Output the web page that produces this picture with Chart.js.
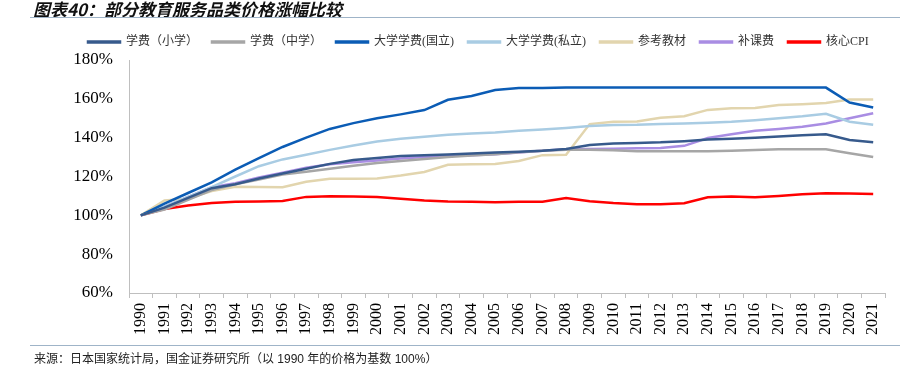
<!DOCTYPE html>
<html>
<head>
<meta charset="utf-8">
<script src="https://cdn.jsdelivr.net/npm/chart.js@4.4.1/dist/chart.umd.min.js"></script>
<style>
  body { margin: 0; background: #fff; }
  #wrap { position: relative; width: 921px; height: 376px; overflow: hidden; }
  #chart { position: absolute; left: 0; top: 0; }
  .title {
    position: absolute; left: 33px; top: -4px;
    font: italic bold 17px "Noto Sans CJK SC", sans-serif; color: #111;
  }
  .rule { position: absolute; left: 30px; width: 870px; height: 1px; background: #9fb4c8; }
  .source {
    position: absolute; left: 34px; top: 349px;
    font: 12px "Liberation Sans", "Noto Sans CJK SC", sans-serif; color: #222;
  }
</style>
</head>
<body>
<div id="wrap">
  <canvas id="chart" width="921" height="376"></canvas>
  <div class="title">图表40：部分教育服务品类价格涨幅比较</div>
  <div class="rule" style="top:17px"></div>
  <div class="rule" style="top:345px"></div>
  <div class="source">来源：日本国家统计局，国金证券研究所（以 1990 年的价格为基数 100%）</div>
</div>
<script>
// categories
const years = ['1990','1991','1992','1993','1994','1995','1996','1997','1998','1999',
  '2000','2001','2002','2003','2004','2005','2006','2007','2008','2009','2010',
  '2011','2012','2013','2014','2015','2016','2017','2018','2019','2020','2021'];

// series (1990 = 100%)
const xiaoxue = [100,104,109,114,116,119,121.5,124,126.5,128.5,129.5,130.5,131,131.3,131.8,132.3,
  132.8,133.3,134.2,136.2,137,137.3,137.6,138.2,139,139.5,140,140.6,141.2,141.8,138.8,137.6];
const zhongxue = [100,103,108,113,116,118.5,121,122.5,124,125.5,127,128,129,130,130.8,131.5,
  132.5,133.3,133.8,133.8,133.5,133,133,133,133,133.3,133.7,134,134,134,132,130];
const guoli = [100,106,111.5,117,123.5,129.5,135.2,140,144.5,147.5,150,152,154.2,159.5,161.5,164.5,
  165.6,165.6,165.8,165.8,165.8,165.8,165.8,165.8,165.8,165.8,165.8,165.8,165.8,165.8,158.1,155.5];
const sili = [100,104.5,109.5,114.5,120,125.3,128.8,131.2,133.7,136,138,139.5,140.5,141.5,142.2,142.7,
  143.6,144.2,145,146,146.5,146.6,147,147.3,147.7,148.2,149,150,151,152.3,148.2,146.7];
const jiaocai = [100,107.7,108.6,112.5,114.7,114.6,114.5,117.3,118.9,118.9,119,120.5,122.3,126,126.3,126.4,
  128,131,131.2,147,148.2,148.3,150.2,151,154.3,155.2,155.3,156.8,157.2,157.8,159.7,159.7];
const buke = [100,104.5,109.5,114.5,116.5,119.5,122,124.5,126.3,127.3,128.3,129.3,130,130.5,131,131.5,
  132.3,133.2,134,134.2,134.3,134.5,134.7,135.8,139.8,141.8,143.6,144.5,145.6,147.3,150,152.6];
const cpi = [100,103.3,105.1,106.3,107,107.1,107.4,109.5,109.8,109.7,109.4,108.5,107.6,107.1,107,106.8,
  107,107,108.9,107.3,106.3,105.7,105.7,106.2,109.3,109.7,109.3,110,110.8,111.4,111.3,111];

// y axis ticks
const yMin = 60, yMax = 180, yStep = 20;

const serif = "'Liberation Serif', 'Noto Sans CJK SC', serif";
const axisGray = '#bfbfbf';

function line(label, data, color) {
  return {
    label, data,
    borderColor: color, backgroundColor: color,
    borderWidth: 2.5, pointRadius: 0, tension: 0, fill: false
  };
}

// legend: a bit taller, and moved so the first item starts at x=88
const legendTweak = {
  id: 'legendTweak',
  afterInit(chart) {
    const lg = chart.legend;
    const fit = lg.fit;
    lg.fit = function () { fit.call(this); this.height += 2; };
  },
  afterLayout(chart) {
    const lg = chart.legend;
    const p = lg.options.labels.padding;
    const start = (lg.left + p + lg.right - lg.lineWidths[0]) / 2;
    const shift = 88 - start;
    lg.left += shift;
    lg.right += shift;
  }
};

new Chart(document.getElementById('chart'), {
  type: 'line',
  data: {
    labels: years,
    datasets: [
      line('学费（小学）', xiaoxue, '#375a8c'),
      line('学费（中学）', zhongxue, '#a6a6a6'),
      line('大学学费(国立)', guoli, '#0b5cb5'),
      line('大学学费(私立)', sili, '#a9cce3'),
      line('参考教材', jiaocai, '#e2d5ae'),
      line('补课费', buke, '#a98de3'),
      line('核心CPI', cpi, '#ff0000')
    ]
  },
  options: {
    responsive: false,
    animation: false,
    layout: { padding: { top: 22, right: 36, bottom: 0, left: 0 } },
    plugins: {
      legend: {
        position: 'top',
        labels: {
          boxWidth: 32, boxHeight: 1, padding: 14,
          color: '#333', font: { family: serif, size: 12 }
        }
      },
      tooltip: { enabled: false }
    },
    scales: {
      x: {
        offset: true,
        grid: { display: true, drawOnChartArea: false, offset: true, tickLength: 5, color: axisGray },
        border: { display: true, color: axisGray },
        ticks: {
          autoSkip: false, minRotation: 90, maxRotation: 90, padding: 5,
          color: '#000', font: { family: serif, size: 16 }
        },
        afterFit(s) { s.height = 83; }
      },
      y: {
        min: yMin, max: yMax,
        grid: { display: false, drawTicks: false },
        border: { display: true, color: axisGray },
        ticks: {
          stepSize: yStep, padding: 16,
          color: '#000', font: { family: serif, size: 17 },
          callback: v => v + '%'
        },
        afterFit(s) { s.width = 129; }
      }
    }
  },
  plugins: [legendTweak]
});
</script>
</body>
</html>
